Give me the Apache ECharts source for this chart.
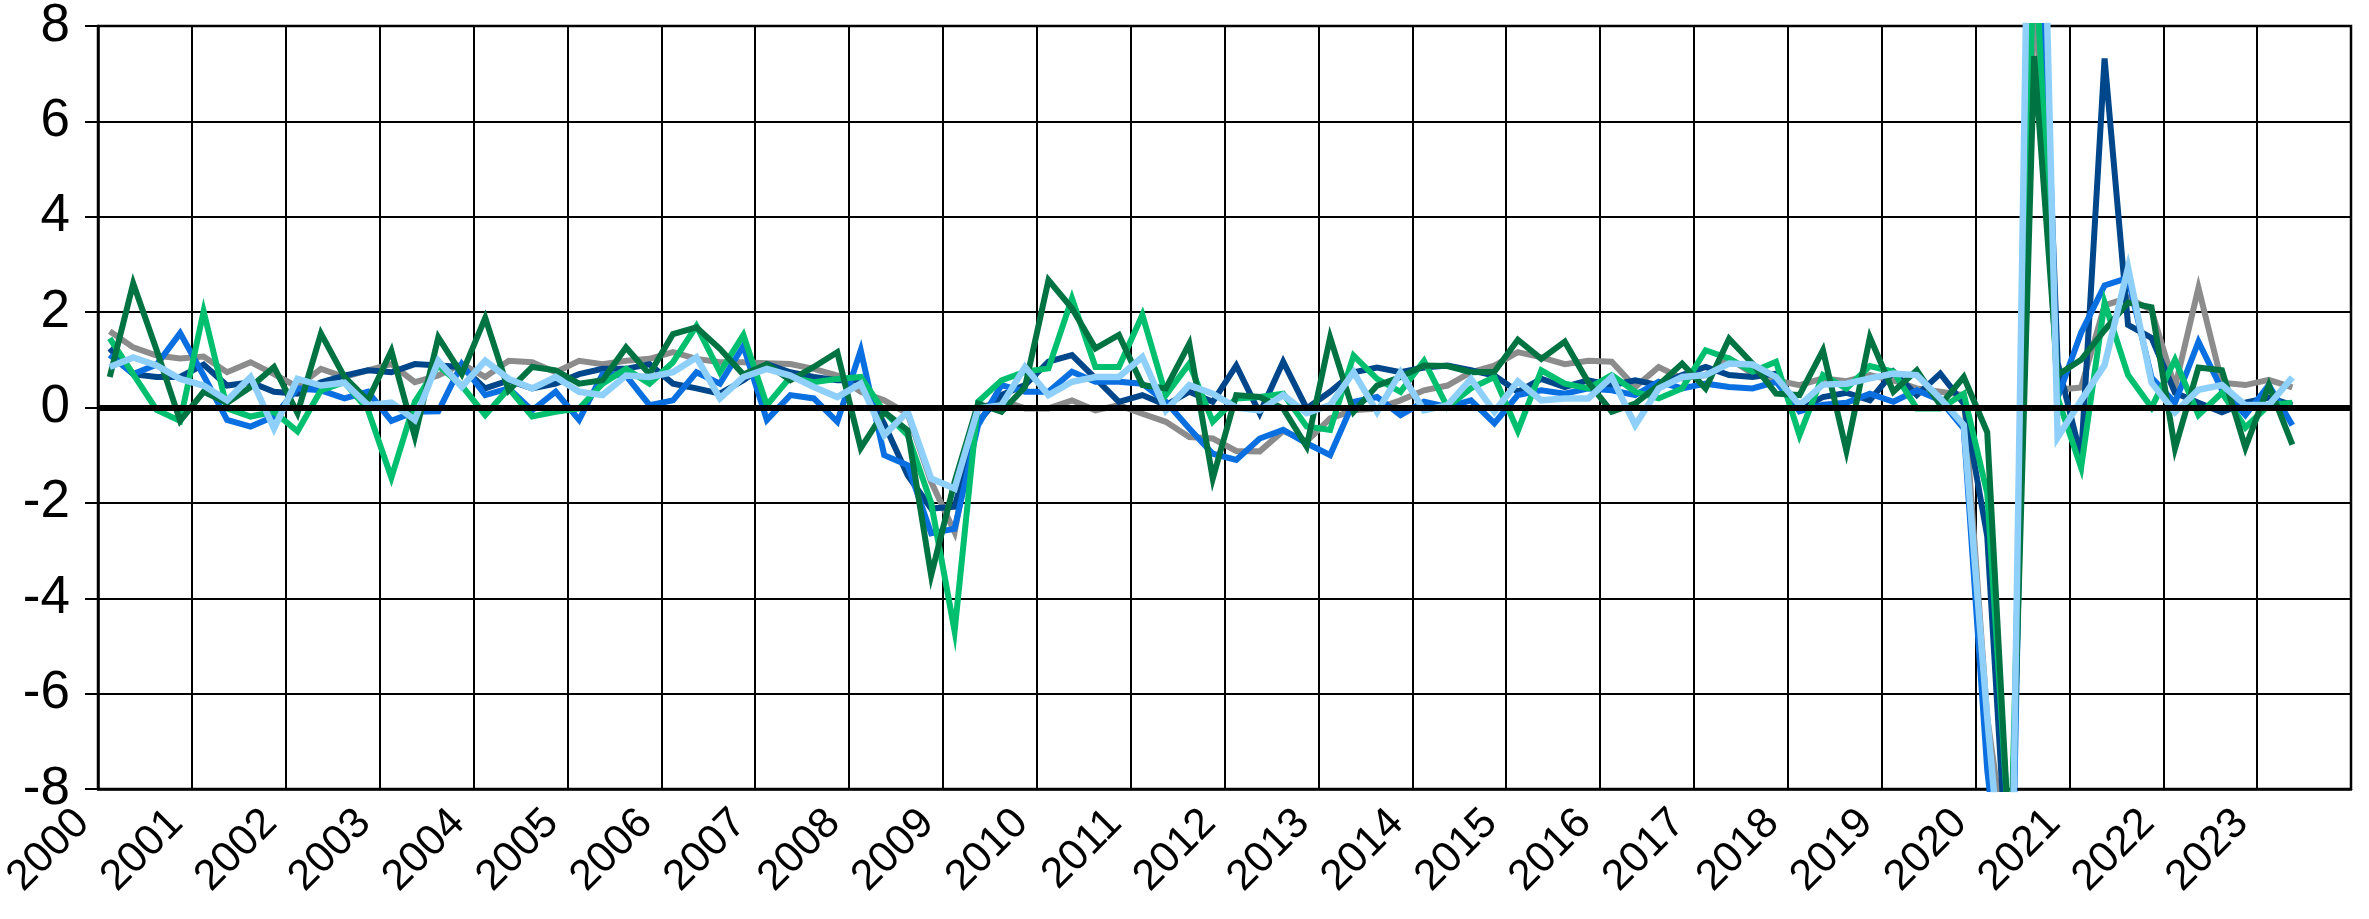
<!doctype html>
<html>
<head>
<meta charset="utf-8">
<script src="https://cdn.jsdelivr.net/npm/echarts@6/dist/echarts.min.js"></script>
<style>
  html, body { margin: 0; background: #fff; }
  #main { width: 2369px; height: 919px; }
</style>
</head>
<body>
<div id="main"></div>
<script>
// quarterly series, 2000Q1 .. 2023Q2
var firstYear = 2000;
var yearLabels = [2000, 2001, 2002, 2003, 2004, 2005, 2006, 2007, 2008, 2009, 2010, 2011,
                  2012, 2013, 2014, 2015, 2016, 2017, 2018, 2019, 2020, 2021, 2022, 2023];

var navy = [1.24, 0.7, 0.64, 0.64, 0.9, 0.46, 0.53, 0.33, 0.29, 0.53, 0.67, 0.78,
            0.74, 0.91, 0.88, 0.85, 0.4, 0.57, 0.4, 0.5, 0.7, 0.81, 0.81, 0.91,
            0.5, 0.4, 0.29, 0.57, 0.91, 0.74, 0.64, 0.57, 0.57, -0.34, -1.42, -2.12,
            -2.08, -0.3, 0.26, 0.47, 0.96, 1.1, 0.61, 0.12, 0.26, 0.05, 0.33, 0.12,
            0.88, -0.12, 0.96, -0.02, 0.33, 0.74, 0.84, 0.74, 0.84, 0.88, 0.78, 0.67,
            0.33, 0.6, 0.43, 0.57, 0.47, 0.57, 0.47, 0.68, 0.85, 0.68, 0.64, 0.71,
            -0.06, 0.22, 0.31, 0.15, 0.75, 0.26, 0.71, 0.08, -2.7, -11, 14, 0.94,
            -1.05, 7.32, 1.73, 1.46, 0.31, 0.1, -0.1, 0.1, 0.21, 0.05];

var blue = [1.1, 0.7, 0.9, 1.56, 0.67, -0.26, -0.4, -0.19, 0.4, 0.36, 0.19, 0.33,
            -0.28, -0.09, -0.08, 0.91, 0.26, 0.4, -0.06, 0.33, -0.26, 0.7, 0.67, 0.05,
            0.15, 0.74, 0.5, 1.29, -0.26, 0.26, 0.19, -0.3, 1.2, -1.0, -1.21, -2.64,
            -2.54, -0.37, 0.47, 0.33, 0.33, 0.75, 0.54, 0.54, 0.5, 0.12, -0.44, -0.97,
            -1.1, -0.65, -0.47, -0.75, -1.0, 0.12, 0.22, -0.16, 0.12, 0.01, 0.15, -0.33,
            0.26, 0.36, 0.29, 0.4, 0.36, 0.26, 0.54, 0.4, 0.5, 0.43, 0.4, 0.54,
            -0.08, 0.06, 0.1, 0.29, 0.12, 0.36, 0.15, -0.44, -7.6, -12, 13, 0.21,
            1.57, 2.56, 2.72, 0.63, 0.1, 1.38, 0.37, -0.16, 0.47, -0.37];

var darkGreen = [0.64, 2.6, 1.2, -0.28, 0.33, 0.1, 0.43, 0.85, -0.12, 1.55, 0.64, 0.15,
                 1.19, -0.61, 1.47, 0.7, 1.88, 0.36, 0.85, 0.78, 0.5, 0.57, 1.26, 0.7,
                 1.54, 1.68, 1.23, 0.69, 0.91, 0.57, 0.85, 1.16, -0.85, -0.09, -0.48, -3.52,
                 -1.56, 0.08, -0.09, 0.43, 2.67, 2.08, 1.24, 1.52, 0.47, 0.4, 1.34, -1.49,
                 0.26, 0.22, -0.02, -0.82, 1.47, -0.09, 0.46, 0.64, 0.88, 0.87, 0.74, 0.75,
                 1.42, 1.02, 1.38, 0.53, -0.09, 0.08, 0.47, 0.92, 0.4, 1.44, 0.92, 0.29,
                 0.26, 1.2, -0.91, 1.47, 0.33, 0.78, 0.05, 0.64, -0.52, -9.7, 7.37, 0.68,
                 1.0, 1.62, 2.2, 2.1, -0.86, 0.84, 0.78, -0.84, 0.47, -0.78];

var green = [1.45, 0.7, -0.05, -0.28, 2.02, -0.02, -0.19, -0.09, -0.5, 0.36, 0.53, -0.05,
             -1.47, 0.12, 0.88, 0.46, -0.16, 0.4, -0.19, -0.09, -0.02, 0.5, 0.81, 0.5,
             0.95, 1.71, 0.74, 1.52, 0.05, 0.64, 0.53, 0.6, 0.64, -0.09, -0.58, -2.0,
             -4.69, 0.12, 0.57, 0.75, 0.82, 2.29, 0.85, 0.85, 1.94, 0.26, 0.92, -0.3,
             0.19, 0.22, 0.29, -0.4, -0.47, 1.09, 0.6, 0.33, 0.98, 0.01, 0.4, 0.64,
             -0.49, 0.78, 0.5, 0.4, 0.68, 0.33, 0.19, 0.4, 1.2, 1.03, 0.75, 0.96,
             -0.58, 0.68, 0.4, 0.87, 0.75, -0.02, -0.02, 0.29, -1.8, -9.5, 10, 0.2,
             -1.26, 2.2, 0.68, 0.0, 1.0, -0.16, 0.31, -0.42, 0.05, 0.1];

var grey = [1.6, 1.26, 1.09, 1.03, 1.07, 0.74, 0.95, 0.7, 0.43, 0.81, 0.64, 0.78,
            0.91, 0.53, 0.67, 0.91, 0.64, 0.98, 0.95, 0.74, 0.98, 0.91, 0.98, 1.02,
            1.16, 1.02, 0.95, 0.95, 0.93, 0.91, 0.81, 0.67, 0.33, 0.15, -0.13, -1.56,
            -2.61, -0.02, 0.15, -0.02, -0.02, 0.15, -0.06, 0.05, -0.13, -0.3, -0.62, -0.65,
            -0.91, -0.92, -0.49, -0.71, -0.23, -0.06, -0.02, 0.15, 0.36, 0.46, 0.74, 0.88,
            1.16, 1.05, 0.91, 0.98, 0.96, 0.43, 0.85, 0.61, 0.68, 1.03, 0.71, 0.57,
            0.47, 0.61, 0.55, 0.68, 0.57, 0.4, 0.33, 0.26, -6.5, -10, 9, 0.37,
            0.42, 2.14, 2.3, 2.04, 0.42, 2.51, 0.52, 0.47, 0.58, 0.42];

var lightBlue = [0.85, 1.05, 0.88, 0.6, 0.46, 0.15, 0.64, -0.44, 0.6, 0.46, 0.52, 0.05,
                 0.1, -0.26, 0.98, 0.43, 0.98, 0.6, 0.4, 0.64, 0.33, 0.26, 0.67, 0.64,
                 0.74, 1.05, 0.19, 0.64, 0.81, 0.67, 0.43, 0.22, 0.5, -0.58, -0.09, -1.49,
                 -1.7, -0.02, 0.05, 0.85, 0.26, 0.54, 0.64, 0.64, 1.06, -0.06, 0.47, 0.29,
                 0.0, -0.06, 0.26, -0.12, 0.05, 0.74, -0.09, 0.74, -0.06, 0.05, 0.6, -0.09,
                 0.55, 0.15, 0.19, 0.19, 0.64, -0.37, 0.4, 0.64, 0.68, 0.92, 0.9, 0.64,
                 0.05, 0.48, 0.5, 0.61, 0.71, 0.68, 0.19, -0.37, -6.5, -12, 19, -0.63,
                 0.15, 0.89, 2.93, 0.52, -0.1, 0.37, 0.47, 0.05, 0.05, 0.63];

// put each quarter in the middle of its year slot
function quarterly(values) {
    return values.map(function (v, i) {
        return [firstYear + (i + 0.5) / 4, v];
    });
}

function lineSeries(name, values, color, width) {
    return {
        name: name,
        type: 'line',
        data: quarterly(values),
        symbol: 'none',
        clip: true,
        lineStyle: { color: color, width: width, join: 'miter' },
        itemStyle: { color: color }
    };
}

var chart = echarts.init(document.getElementById('main'));

var series = [
    lineSeries('grey', grey, '#8c8c8c', 6),
    lineSeries('navy', navy, '#00468b', 6),
    lineSeries('blue', blue, '#0a6fe0', 6),
    lineSeries('green', green, '#00bf6f', 6),
    lineSeries('darkGreen', darkGreen, '#007343', 6),
    lineSeries('lightBlue', lightBlue, '#8fd0fa', 6.5)
];
// thick zero line under the data
series[0].markLine = {
    silent: true,
    symbol: 'none',
    label: { show: false },
    lineStyle: { color: '#000', width: 6, type: 'solid' },
    data: [{ yAxis: 0 }]
};

chart.setOption({
    animation: false,
    backgroundColor: '#fff',
    grid: {
        left: 98, right: 18, top: 26, bottom: 130,
        outerBoundsMode: 'none',
        containLabel: false,
        show: true, borderColor: '#000', borderWidth: 2.5
    },
    xAxis: {
        type: 'value',
        min: yearLabels[0],
        max: yearLabels[yearLabels.length - 1] + 1,
        interval: 1,
        axisLine: { show: true, onZero: false, lineStyle: { color: '#000', width: 2.5 } },
        axisTick: { show: false },
        splitLine: { show: true, lineStyle: { color: '#000', width: 2 } },
        axisLabel: {
            rotate: 45,
            margin: 12,
            padding: [0, 22, 0, 0],
            fontSize: 43,
            fontFamily: 'Liberation Sans, Arial, sans-serif',
            color: '#000',
            formatter: function (v) {
                return yearLabels.indexOf(v) >= 0 ? String(v) : '';
            }
        }
    },
    yAxis: {
        type: 'value',
        min: -8,
        max: 8,
        interval: 2,
        axisLine: { show: true, lineStyle: { color: '#000', width: 2.5 } },
        axisTick: { show: true, length: 13, lineStyle: { color: '#000', width: 2 } },
        splitLine: { show: true, lineStyle: { color: '#000', width: 2 } },
        axisLabel: {
            margin: 28,
            fontSize: 53,
            fontFamily: 'Liberation Sans, Arial, sans-serif',
            color: '#000'
        }
    },
    series: series
});
</script>
</body>
</html>
